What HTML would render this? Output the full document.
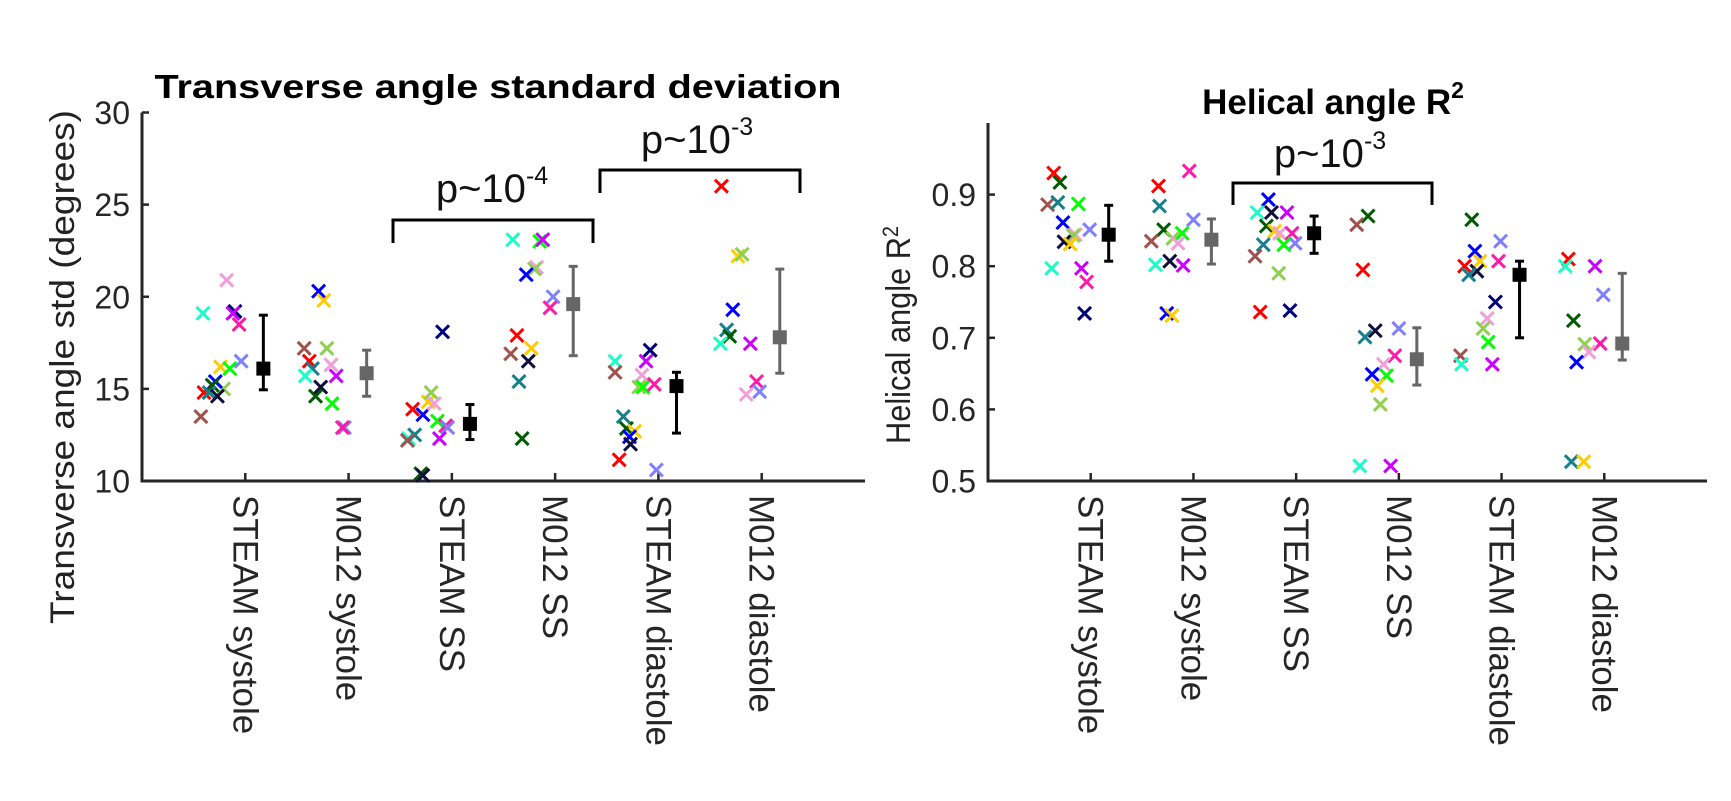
<!DOCTYPE html>
<html><head><meta charset="utf-8">
<style>
html,body{margin:0;padding:0;background:#fff;}
svg{display:block;font-family:"Liberation Sans",Arial,sans-serif;}
</style></head>
<body>
<svg id="chart" width="1731" height="801" viewBox="0 0 1731 801" xmlns="http://www.w3.org/2000/svg">
  <rect width="1731" height="801" fill="#fff"/>
  <g id="left"></g>
  <g id="right"></g>
  <text x="498" y="98" font-size="33" font-weight="bold" text-anchor="middle" textLength="687" lengthAdjust="spacingAndGlyphs">Transverse angle standard deviation</text>
  <text x="1333" y="114" font-size="35" font-weight="bold" text-anchor="middle">Helical angle R<tspan dy="-16" font-size="23">2</tspan></text>
  <text transform="translate(74,367) rotate(-90)" font-size="34" text-anchor="middle" fill="#222" textLength="514" lengthAdjust="spacingAndGlyphs">Transverse angle std (degrees)</text>
  <text transform="translate(910,335) rotate(-90)" font-size="34" text-anchor="middle" fill="#222" textLength="218" lengthAdjust="spacingAndGlyphs">Helical angle R<tspan dy="-12" font-size="22">2</tspan></text>
</svg>
<script>
const categories = ["STEAM systole","M012 systole","STEAM SS","M012 SS","STEAM diastole","M012 diastole"];
const leftTicks = [10,15,20,25,30];
const rightTicks = [0.5,0.6,0.7,0.8,0.9];
const rightTickLabels = ["0.5","0.6","0.7","0.8","0.9"];
const palette = {r:"#ff0000",br:"#a0524d",te:"#16808c",cy:"#1affc8",bl:"#0000ff",nv:"#00007a",dn:"#0f0f3c",dg:"#005a00",yg:"#8fd04f",go:"#ffcc00",gr:"#00ff00",pk:"#f0a0d8",mg:"#cc00ff",hp:"#ff1aa8",pw:"#8080ff"};

// Left chart data
const leftGroup = [0,0,0,0,0,0,0,0,0,0,0,0,0,0,0, 1,1,1,1,1,1,1,1,1,1,1,1,1,1, 2,2,2,2,2,2,2,2,2,2,2,2,2,2,2, 3,3,3,3,3,3,3,3,3,3,3,3,3,3, 4,4,4,4,4,4,4,4,4,4,4,4,4,4,4, 5,5,5,5,5,5,5,5,5,5,5];
const leftValues = [19.1,20.9,19.2,19.1,18.5,16.5,16.2,16.1,15.0,14.8,15.4,15.2,14.8,14.6,13.5,
 20.3,19.8,17.2,17.2,16.5,16.3,16.1,15.7,15.7,15.1,14.6,14.2,12.9,12.9,
 13.9,13.6,14.3,14.8,14.2,13.25,13.0,12.9,12.3,12.3,12.5,12.2,10.4,10.3,18.1,
 23.1,23.0,23.1,21.6,21.5,21.2,20.0,19.4,17.9,17.2,16.9,16.5,15.4,12.3,
 16.5,15.9,17.1,16.5,15.75,15.1,15.1,15.25,13.5,12.85,12.7,12.4,12.0,11.15,10.6,
 26.0,22.2,22.3,19.3,18.2,17.85,17.45,17.45,15.4,14.7,14.85];
const leftJitter = [-0.41,-0.18,-0.10,-0.12,-0.06,-0.04,-0.24,-0.15,-0.21,-0.40,-0.29,-0.32,-0.35,-0.27,-0.43,
 -0.29,-0.24,-0.43,-0.21,-0.38,-0.17,-0.35,-0.42,-0.12,-0.27,-0.32,-0.16,-0.04,-0.06,
 -0.38,-0.28,-0.23,-0.20,-0.17,-0.14,-0.06,-0.04,-0.12,-0.42,-0.36,-0.43,-0.30,-0.28,-0.09,
 -0.41,-0.15,-0.12,-0.18,-0.20,-0.28,-0.02,-0.05,-0.37,-0.23,-0.43,-0.26,-0.35,-0.32,
 -0.42,-0.42,-0.08,-0.12,-0.16,-0.19,-0.15,-0.04,-0.34,-0.31,-0.23,-0.28,-0.27,-0.38,-0.02,
 -0.39,-0.23,-0.19,-0.28,-0.34,-0.31,-0.40,-0.11,-0.05,-0.15,-0.02];
const leftColor = ["cy","pk","nv","mg","hp","pw","go","gr","yg","r","bl","dg","te","dn","br",
 "bl","go","br","yg","r","pk","te","cy","mg","dn","dg","gr","pw","hp",
 "r","bl","go","yg","pk","gr","hp","pw","mg","cy","te","br","dg","dn","nv",
 "cy","gr","mg","pk","yg","bl","pw","hp","r","go","br","dn","te","dg",
 "cy","br","nv","mg","pk","yg","gr","hp","te","dg","go","bl","dn","r","pw",
 "r","go","yg","bl","te","dg","cy","mg","hp","pk","pw"];
const leftMeans = [16.1,15.85,13.1,19.6,15.15,17.8];
const leftErrHigh = [19.0,17.1,14.15,21.65,15.9,21.5];
const leftErrLow = [14.95,14.6,12.25,16.8,12.6,15.85];

// Right chart data
const rightGroup = [0,0,0,0,0,0,0,0,0,0,0,0,0,0,0, 1,1,1,1,1,1,1,1,1,1,1,1,1,1, 2,2,2,2,2,2,2,2,2,2,2,2,2,2,2, 3,3,3,3,3,3,3,3,3,3,3,3,3,3, 4,4,4,4,4,4,4,4,4,4,4,4,4,4,4, 5,5,5,5,5,5,5,5,5,5,5];
const rightValues = [0.930,0.917,0.886,0.889,0.887,0.861,0.851,0.844,0.843,0.834,0.831,0.797,0.797,0.778,0.734,
 0.933,0.912,0.884,0.865,0.851,0.846,0.839,0.835,0.832,0.807,0.802,0.801,0.734,0.731,
 0.893,0.875,0.875,0.875,0.856,0.849,0.846,0.846,0.832,0.830,0.830,0.814,0.790,0.736,0.738,
 0.870,0.858,0.795,0.710,0.713,0.701,0.675,0.663,0.649,0.647,0.633,0.607,0.521,0.521,
 0.865,0.835,0.821,0.807,0.807,0.800,0.793,0.788,0.750,0.727,0.713,0.694,0.675,0.663,0.663,
 0.810,0.800,0.800,0.760,0.724,0.691,0.692,0.680,0.666,0.527,0.527];
const rightJitter = [-0.36,-0.30,-0.42,-0.32,-0.12,-0.27,-0.01,-0.15,-0.17,-0.26,-0.20,-0.38,-0.09,-0.04,-0.06,
 -0.04,-0.34,-0.33,0,-0.29,-0.11,-0.20,-0.41,-0.15,-0.23,-0.37,-0.10,-0.26,-0.21,
 -0.27,-0.38,-0.24,-0.09,-0.29,-0.21,-0.16,-0.04,-0.01,-0.12,-0.32,-0.40,-0.17,-0.35,-0.06,
 -0.30,-0.41,-0.35,-0.23,0,-0.33,-0.04,-0.15,-0.26,-0.12,-0.21,-0.18,-0.38,-0.08,
 -0.29,-0.01,-0.26,-0.21,-0.03,-0.36,-0.24,-0.32,-0.06,-0.14,-0.18,-0.13,-0.40,-0.39,-0.09,
 -0.35,-0.38,-0.09,-0.01,-0.30,-0.19,-0.04,-0.15,-0.27,-0.32,-0.20];
const rightColor = ["r","dg","br","te","gr","bl","pw","pk","yg","dn","go","cy","mg","hp","nv",
 "hp","r","te","pw","dg","gr","yg","br","pk","dn","cy","mg","bl","go",
 "bl","cy","dn","mg","dg","go","pk","hp","pw","gr","te","br","yg","r","nv",
 "dg","br","r","dn","pw","te","hp","pk","bl","gr","go","yg","cy","mg",
 "dg","pw","bl","go","hp","r","dn","te","nv","pk","yg","gr","br","cy","mg",
 "r","cy","mg","pw","dg","yg","hp","pk","bl","te","go"];
const rightMeans = [0.844,0.837,0.846,0.670,0.788,0.692];
const rightErrHigh = [0.885,0.866,0.870,0.714,0.807,0.790];
const rightErrLow = [0.807,0.803,0.818,0.634,0.700,0.669];

const NS = "http://www.w3.org/2000/svg";
function mk(parent, tag, attrs){ const e=document.createElementNS(NS,tag); for(const k in attrs) e.setAttribute(k,attrs[k]); parent.appendChild(e); return e; }

function drawPanel(g, cfg){
  const xs = c => cfg.x0 + c*(cfg.x1-cfg.x0)/7;
  const ys = v => cfg.yb - (v-cfg.ymin)*(cfg.yb-cfg.yt)/(cfg.ymax-cfg.ymin);
  const ya = mk(g,"line",{x1:cfg.x0,y1:cfg.yt,x2:cfg.x0,y2:cfg.yb+1.5,stroke:"#262626","stroke-width":3});
  
  
  const xa = mk(g,"line",{x1:cfg.x0-1.5,y1:cfg.yb,x2:cfg.x1,y2:cfg.yb,stroke:"#262626","stroke-width":3});
  
  
  cfg.ticks.forEach((t,i)=>{
    const y=ys(t);
    const tl = mk(g,"line",{x1:cfg.x0,y1:y,x2:cfg.x0+7,y2:y,stroke:"#262626","stroke-width":2.5});
    
    
    const tx = mk(g,"text",{x:cfg.x0-12,y:y+11.5,"font-size":32,"text-anchor":"end",fill:"#262626"});
    tx.textContent = cfg.tickLabels[i];
    
    
  });
  categories.forEach((c,i)=>{
    const x=xs(i+1);
    const tl = mk(g,"line",{x1:x,y1:cfg.yb,x2:x,y2:cfg.yb-8,stroke:"#262626","stroke-width":2.5});
    
    
    const tx = mk(g,"text",{transform:`translate(${x-12},${cfg.yb+14}) rotate(90)`,"font-size":35,fill:"#262626"});
    tx.textContent = c;
    
    
  });
  cfg.vals.forEach((v,i)=>{
    const x=xs(cfg.grp[i]+1+cfg.jit[i]), y=ys(v), s=6.5;
    const col=palette[cfg.col[i]];
    const m = mk(g,"path",{d:`M${x-s},${y-s}L${x+s},${y+s}M${x-s},${y+s}L${x+s},${y-s}`,stroke:col,"stroke-width":3,fill:"none"});
    
    
  });
  cfg.means.forEach((v,i)=>{
    const x=xs(i+1.175), col = i%2===0 ? "#000" : "#666";
    const eg = mk(g,"g",{});
    
    
    const yh=ys(cfg.hi[i]), yl=ys(cfg.lo[i]);
    mk(eg,"line",{x1:x,y1:yh,x2:x,y2:yl,stroke:col,"stroke-width":3});
    mk(eg,"line",{x1:x-4.5,y1:yh,x2:x+4.5,y2:yh,stroke:col,"stroke-width":3});
    mk(eg,"line",{x1:x-4.5,y1:yl,x2:x+4.5,y2:yl,stroke:col,"stroke-width":3});
    mk(eg,"rect",{x:x-7,y:ys(v)-7,width:14,height:14,fill:col});
  });
}

function bracket(parent, name, xa, xb, ytop, ylegs, tx, ty, exp){
  const g = mk(parent,"g",{});
  
  
  mk(g,"path",{d:`M${xa},${ylegs}L${xa},${ytop}L${xb},${ytop}L${xb},${ylegs}`,stroke:"#000","stroke-width":3,fill:"none"});
  const t = mk(g,"text",{x:tx,y:ty,"font-size":40,"text-anchor":"middle",fill:"#111"});
  t.innerHTML = `p~10<tspan dy="-18" font-size="25">${exp}</tspan>`;
}

const L=document.getElementById('left'), R=document.getElementById('right');
drawPanel(L,{p:"left",x0:142,x1:865,yt:112.5,yb:481,ymin:10,ymax:30,ticks:leftTicks,tickLabels:leftTicks.map(String),
  grp:leftGroup,vals:leftValues,jit:leftJitter,col:leftColor,means:leftMeans,hi:leftErrHigh,lo:leftErrLow});
drawPanel(R,{p:"right",x0:988,x1:1707,yt:123,yb:481,ymin:0.5,ymax:1.0,ticks:rightTicks,tickLabels:rightTickLabels,
  grp:rightGroup,vals:rightValues,jit:rightJitter,col:rightColor,means:rightMeans,hi:rightErrHigh,lo:rightErrLow});
bracket(L,"pvalue-bracket-ss",393,593,220,243,492,202,"-4");
bracket(L,"pvalue-bracket-diastole",600,800,170,193,697,153,"-3");
bracket(R,"pvalue-bracket-ss-right",1233,1432,183,205,1330,167,"-3");
</script>
</body></html>
